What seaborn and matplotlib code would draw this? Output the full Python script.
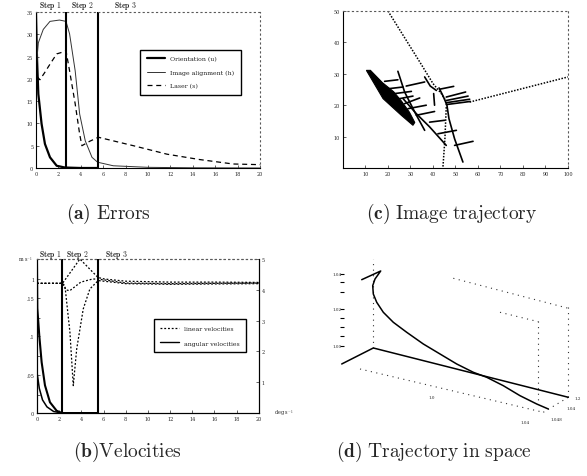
import pandas as pd
import matplotlib
matplotlib.use('Agg')
import matplotlib.pyplot as plt
import seaborn as sns

# (a) errors vs time (s)
t_orient = [0.0, 0.06, 0.1, 0.21, 0.5, 0.8, 1.25, 1.85, 2.5, 2.68, 4.0, 5.5]
e_orient = [35.0, 28.0, 24.1, 16.6, 9.9, 5.4, 2.4, 0.5, 0.15, 0.1, 0.0, 0.0]
t_align = [0.05, 0.21, 0.65, 1.25, 2.1, 2.68, 3.0, 3.5, 3.9, 4.4, 5.0, 5.5, 6.9, 10, 14, 20]
e_align = [23.3, 28.1, 31.1, 32.9, 33.2, 32.9, 30.1, 21.8, 12.1, 6.1, 2.4, 1.3, 0.5, 0.15, 0.05, 0.0]
t_laser = [0.1, 0.35, 0.8, 1.25, 1.85, 2.5, 2.68, 3.0, 3.5, 3.9, 4.1, 4.8, 5.57, 8.7, 11.7, 14.6, 17.6, 20]
e_laser = [20.5, 19.8, 21.5, 23.3, 25.6, 26.1, 26.3, 21.8, 14.4, 7.6, 5.0, 6.0, 6.9, 5.0, 3.1, 1.9, 0.9, 0.75]
steps_a = [2.68, 5.5]

# (b) velocities: angular (left axis), linear (right axis)
t_w1 = [0.0, 0.03, 0.21, 0.42, 0.72, 1.17, 1.77, 2.25, 5.5]
w1 = [0.97, 0.68, 0.50, 0.33, 0.18, 0.07, 0.015, 0.0, 0.0]
t_w2 = [0.03, 0.21, 0.5, 0.9, 1.5, 2.25, 5.5]
w2 = [0.25, 0.16, 0.085, 0.04, 0.01, 0.0, 0.0]
t_v1 = [0, 2.3, 3.87, 5.5, 6.1, 8, 12, 16, 20]
v1 = [4.21, 4.21, 5.0, 4.4, 4.35, 4.28, 4.25, 4.25, 4.24]
t_v2 = [0, 2.3, 2.6, 2.95, 3.95, 5.0, 5.5, 8, 12, 20]
v2 = [4.21, 4.21, 4.0, 3.97, 4.25, 4.35, 4.35, 4.22, 4.2, 4.22]
t_v3 = [0, 2.3, 2.52, 2.97, 3.27, 3.58, 4.17, 4.77, 5.52, 8, 12, 20]
v3 = [4.21, 4.21, 4.13, 2.62, 0.89, 2.08, 3.38, 4.03, 4.3, 4.2, 4.18, 4.2]
steps_b = [2.3, 5.5]

# (c) image trajectory (image plane units)
path_u = [20.0, 26.7, 34.1, 40.0, 43.7, 45.6]
path_v = [50.0, 42.3, 33.8, 26.9, 23.7, 21.5]
drop_u = [45.9, 45.3, 44.4]
drop_v = [19.4, 9.3, 0.0]
exit_u = [56.3, 100.0]
exit_v = [21.0, 29.0]
wedge_u = [10.4, 17.8, 25.9, 31.1, 31.9, 29.5, 26.0, 22.5, 17.5, 12.2]
wedge_v = [31.1, 22.1, 16.8, 13.6, 14.5, 17.8, 21.3, 24.3, 27.2, 31.1]
spines_c = [
    [(24.4, 30.8), (27.4, 24.2), (31.9, 17.8), (36.3, 12.0)],
    [(36.3, 29.0), (38.8, 26.1), (41.5, 24.7)],
    [(40.3, 23.7), (40.7, 20.0)],
    [(42.7, 25.5), (44.7, 22.6), (46.2, 20.0), (47.1, 15.7), (49.6, 9.3), (53.3, 1.9)],
    [(26.7, 22.1), (32.6, 17.3), (38.5, 13.1), (45.9, 7.2)],
    [(18.5, 27.6), (24.4, 28.1)], [(28.1, 26.1), (36.3, 27.4)],
    [(20.7, 25.3), (26.7, 25.8)], [(23.0, 23.7), (30.4, 24.4)],
    [(25.2, 22.1), (31.1, 22.9)], [(27.4, 20.5), (34.1, 22.3)],
    [(28.9, 18.9), (37.0, 20.0)], [(32.6, 16.8), (40.7, 18.0)],
    [(38.5, 14.6), (45.2, 15.2)], [(42.2, 10.9), (50.4, 12.0)],
    [(49.6, 7.2), (57.8, 8.5)], [(43.0, 25.1), (49.2, 26.0)],
    [(45.9, 22.6), (54.5, 24.2)], [(45.9, 21.5), (55.6, 22.9)],
    [(45.9, 20.8), (56.3, 21.9)], [(45.9, 20.2), (56.6, 21.2)],
]

# (d) trajectory in space (projected view)
traj_u = [31.7, 50.7, 45.0, 42.7, 43.3, 46.7, 53.3, 63.3, 76.7, 93.3, 110, 126.7,
          143.3, 156.7, 173.3, 190, 206.7, 218.3]
traj_v = [159.3, 168, 160, 153.3, 145, 136.7, 126.7, 116.7, 106.7, 95, 85, 75,
          66.7, 61.7, 53.3, 43.3, 35, 30]
line_u = [11.7, 43.3, 238.3]
line_v = [75, 91, 41.7]
box_d = [
    [(43.3, 91), (43.3, 180)],
    [(238.3, 131.7), (238.3, 41.7)],
    [(208.3, 118.3), (208.3, 38.3)],
    [(123.3, 160.7), (238.3, 130.7)],
    [(170, 126.7), (208.3, 117.3)],
    [(30, 70), (213.3, 26.7)],
    [(213.3, 26.7), (238.3, 41.7)],
]
zt_v = [165, 156.7, 147.3, 130, 120.7, 111.7, 102.7, 93.3]


sns.set_style('ticks')
plt.rcParams['font.family'] = ['DejaVu Serif']
plt.rcParams['mathtext.fontset'] = 'cm'

fig = plt.figure(figsize=(5.87, 4.77), dpi=100)
ax_a = fig.add_axes([0.0613, 0.6457, 0.3816, 0.327])
ax_b = fig.add_axes([0.063, 0.132, 0.378, 0.3229])
ax_c = fig.add_axes([0.5843, 0.6457, 0.3833, 0.3291])
ax_d = fig.add_axes([0.5622, 0.0776, 0.4378, 0.4088])


def style(ax, dotted=('top', 'right')):
    for s in ax.spines.values():
        s.set_linewidth(0.8)
        s.set_color('k')
    for s in dotted:
        ax.spines[s].set_linestyle((0, (1, 3)))
        ax.spines[s].set_color('0.35')
    ax.tick_params(direction='in', length=2, width=0.5, labelsize=3.5, pad=2)
    ax.set_xlabel('')
    ax.set_ylabel('')


# ---- (a) Errors ----
sns.lineplot(x=t_orient, y=e_orient, ax=ax_a, color='k', lw=1.6, label='Orientation (u)')
sns.lineplot(x=t_align, y=e_align, ax=ax_a, color='0.2', lw=0.7, label='Image alignment (h)')
sns.lineplot(x=t_laser, y=e_laser, ax=ax_a, color='k', lw=0.9, linestyle=(0, (4, 3)), label='Laser (s)')
for s in steps_a:
    ax_a.axvline(s, color='k', lw=1.5)
ax_a.set_xlim(0, 20)
ax_a.set_ylim(0, 35)
ax_a.set_xticks(range(0, 21, 2))
ax_a.set_yticks(range(0, 36, 5))
style(ax_a)
for x, lab in zip([1.25, 4.1, 7.95], ['Step 1', 'Step 2', 'Step 3']):
    ax_a.text(x, 1.045, r'$\mathbf{%s}$' % lab.replace(' ', r'\ '), transform=ax_a.get_xaxis_transform(),
              ha='center', va='center', fontsize=5.5)
ax_a.legend(loc='center', bbox_to_anchor=(0.69, 0.615), fontsize=4.5, frameon=True, fancybox=False,
            edgecolor='k', framealpha=1, handlelength=3, labelspacing=1.3, borderpad=1.0)
ax_a.get_legend().get_frame().set_linewidth(1.0)

# ---- (b) Velocities ----
sns.lineplot(x=t_w1, y=w1, ax=ax_b, color='k', lw=1.5)
sns.lineplot(x=t_w2, y=w2, ax=ax_b, color='k', lw=1.1)
for s in steps_b:
    ax_b.axvline(s, color='k', lw=1.5)
ax_b.set_xlim(0, 20)
ax_b.set_ylim(0, 1)
ax_b.set_xticks(range(0, 21, 2))
ax_b.set_yticks([0, 0.12, 0.25, 0.37, 0.5, 0.62, 0.75, 0.87, 1.0])
ax_b.set_yticklabels(['0', '', '.05', '', '.1', '', '.15', '1', ''])
style(ax_b, dotted=('top',))
ax_b2 = ax_b.twinx()
for tt, vv in [(t_v1, v1), (t_v2, v2), (t_v3, v3)]:
    sns.lineplot(x=tt, y=vv, ax=ax_b2, color='k', lw=0.9, linestyle=(0, (1.5, 1.5)))
ax_b2.set_ylim(0, 5)
ax_b2.set_yticks([1, 2, 3, 4, 5])
style(ax_b2, dotted=('top',))
for x, lab in zip([1.17, 3.6, 7.2], ['Step 1', 'Step 2', 'Step 3']):
    ax_b.text(x, 1.035, r'$\mathbf{%s}$' % lab.replace(' ', r'\ '), transform=ax_b.get_xaxis_transform(),
              ha='center', va='center', fontsize=5.5)
ax_b.text(-0.02, 1.0, r'm s$^{-1}$', transform=ax_b.transAxes, ha='right', va='center', fontsize=3.5)
ax_b2.text(1.07, 0.0, r'deg s$^{-1}$', transform=ax_b2.transAxes, ha='left', va='center', fontsize=3.5)
h_lin = plt.Line2D([], [], color='k', lw=0.9, linestyle=(0, (1.5, 1.5)))
h_ang = plt.Line2D([], [], color='k', lw=1.0)
leg = ax_b2.legend([h_lin, h_ang], ['linear velocities', 'angular velocities'], loc='center',
                   bbox_to_anchor=(0.734, 0.503), fontsize=4.5, frameon=True, fancybox=False,
                   edgecolor='k', framealpha=1, handlelength=3, labelspacing=1.5, borderpad=1.0)
leg.get_frame().set_linewidth(1.0)

# ---- (c) Image trajectory ----
ax_c.fill(wedge_u, wedge_v, color='k', lw=0.8)
seg_rows = [(i, u, v) for i, seg in enumerate(spines_c) for (u, v) in seg]
seg_df = pd.DataFrame(seg_rows, columns=['seg', 'u', 'v'])
sns.lineplot(data=seg_df, x='u', y='v', units='seg', estimator=None, sort=False,
             ax=ax_c, color='k', lw=1.2)
for uu, vv in [(path_u, path_v), (drop_u, drop_v), (exit_u, exit_v)]:
    sns.lineplot(x=uu, y=vv, ax=ax_c, sort=False, estimator=None, color='k', lw=1.1,
                 linestyle=(0, (1, 1)))
ax_c.set_xlim(0, 100)
ax_c.set_ylim(0, 50)
ax_c.set_xticks(range(10, 101, 10))
ax_c.set_yticks(range(10, 51, 10))
style(ax_c)

# ---- (d) Trajectory in space ----
for seg in box_d:
    sns.lineplot(x=[p[0] for p in seg], y=[p[1] for p in seg], ax=ax_d, sort=False,
                 estimator=None, color='0.2', lw=0.8, linestyle=(0, (1, 4)))
sns.lineplot(x=traj_u, y=traj_v, ax=ax_d, sort=False, estimator=None, color='k', lw=1.1)
sns.lineplot(x=line_u, y=line_v, ax=ax_d, sort=False, estimator=None, color='k', lw=1.1)
sns.scatterplot(x=[12.0] * len(zt_v), y=zt_v, ax=ax_d, marker='_', color='k', s=8, linewidth=0.8)
for u, v, lab in [(2, 165, '1.04'), (2, 130, '1.02'), (2, 93, '1.00'), (244, 41, '1.2'),
                  (236, 31, '1.04'), (220, 20, '1.048'), (190, 17, '1.04'), (98, 42, '1.0')]:
    ax_d.text(u, v, lab, fontsize=3, ha='left', va='center')
ax_d.set_xlim(0, 257)
ax_d.set_ylim(0, 195)
ax_d.axis('off')

# captions
fig.text(0.1848, 0.5514, r'$\mathbf{(a)}\ \mathrm{Errors}$', fontsize=14, ha='center', va='center')
fig.text(0.769, 0.5514, r'$\mathbf{(c)}\ \mathrm{Image\ trajectory}$', fontsize=14, ha='center', va='center')
fig.text(0.2172, 0.0524, r'$\mathbf{(b)}\mathrm{Velocities}$', fontsize=14, ha='center', va='center')
fig.text(0.739, 0.0524, r'$\mathbf{(d)}\ \mathrm{Trajectory\ in\ space}$', fontsize=14, ha='center', va='center')

fig.savefig('out.png', dpi=100)
